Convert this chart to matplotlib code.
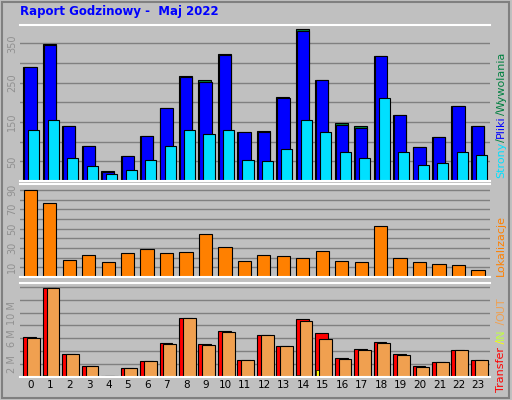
import matplotlib
matplotlib.use("Agg")
import matplotlib.pyplot as plt
import numpy as np

hours = list(range(24))
wywolania = [291,348,141,88,25,63,114,185,266,256,323,124,126,213,388,258,147,139,317,167,86,111,192,141]
pliki     = [289,347,139,88,24,63,114,185,264,253,320,124,124,210,383,256,142,136,317,167,86,111,192,141]
strony    = [131,154,58,37,17,27,53,88,129,119,131,53,50,81,154,124,75,58,210,73,40,45,75,65]
lokalizacje = [90,76,18,22.5,16,24.5,29,24.5,25.5,44,31,17,22.5,21.5,19.5,26.5,17,15,53,19.5,16,13,12,7]
transfer = [6.25,13.9,3.5,1.75,0.2,1.45,2.5,5.3,9.2,5.1,7.1,2.7,6.5,4.8,9.0,6.8,3.0,4.4,5.4,3.6,1.75,2.35,4.2,2.7]
trans_in = [0,0.3,0,0,0,0,0,0,0,0,0,0,0,0,0.3,1.1,0,0,0,0,0,0,0,0]
trans_out = [6.05,13.8,3.5,1.75,0.2,1.45,2.5,5.1,9.2,5.0,7.0,2.7,6.5,4.8,8.7,5.9,2.8,4.2,5.3,3.4,1.6,2.35,4.2,2.7]

BG = "#c0c0c0"
fig = plt.figure(figsize=(5.12, 4.0), dpi=100, facecolor=BG)
fig.patches.append(plt.Rectangle((0.004,0.005),0.99,0.99,transform=fig.transFigure,fill=False,ec="#808080",lw=1.5))
x = np.array(hours)
L, W = 0.039, 0.918

def setup(ax, ylim, grid, ticks, labels):
    ax.set_facecolor(BG)
    ax.set_xlim(-0.55, 23.6)
    ax.set_ylim(*ylim)
    for g in grid:
        ax.axhline(g, color="#808080", lw=1, zorder=0)
    ax.set_yticks(ticks)
    ax.set_yticklabels(labels, rotation=90, va="center", fontsize=7, color="#909090")
    ax.tick_params(length=0, pad=2)
    for s in ax.spines.values():
        s.set_visible(False)
    ax.spines['bottom'].set_visible(True); ax.spines['bottom'].set_color("white"); ax.spines['bottom'].set_linewidth(1.5)
    ax.spines['top'].set_visible(True); ax.spines['top'].set_color("white"); ax.spines['top'].set_linewidth(1.5)

ax1 = fig.add_axes([L, 0.5475, W, 0.39])
setup(ax1, (0, 397), range(50, 400, 50), [50,150,250,350], ["50","150","250","350"])
ax1.set_xticks([])
ax1.bar(x-0.38, wywolania, 0.66, align="edge", color="#008040", ec="black", lw=0.8)
ax1.bar(x-0.33, pliki, 0.63, align="edge", color="#0000ff", ec="black", lw=0.8)
ax1.bar(x-0.12, strony, 0.57, align="edge", color="#00e0ff", ec="black", lw=0.8)

ax2 = fig.add_axes([L, 0.3075, W, 0.2325])
setup(ax2, (0, 96), range(10, 100, 10), [10,30,50,70,90], ["10","30","50","70","90"])
ax2.set_xticks([])
ax2.bar(x-0.36, lokalizacje, 0.68, align="edge", color="#ff8000", ec="black", lw=0.8)

ax3 = fig.add_axes([L, 0.0575, W, 0.235])
setup(ax3, (0, 14.6), np.arange(2, 15, 2), [2,6,10], ["2 M","6 M","10 M"])
ax3.bar(x-0.38, transfer, 0.66, align="edge", color="#ff0000", ec="black", lw=0.8)
ax3.bar(x-0.33, trans_in, 0.12, align="edge", color="#ffff00", ec="black", lw=0.5)
ax3.bar(x-0.18, trans_out, 0.66, align="edge", color="#f0a050", ec="black", lw=0.8)
ax3.set_xticks(hours)
ax3.set_xticklabels([str(h) for h in hours], fontsize=7.5, color="black")

fig.text(0.04, 0.972, "Raport Godzinowy -  Maj 2022", color="#0000ff", fontsize=8.5, fontweight="bold", va="center")

def vtext(parts, x0, y0):
    y = y0
    for t, c in parts:
        tx = fig.text(x0, y, t, color=c, rotation=90, fontsize=8, va="bottom", ha="center")
        fig.canvas.draw()
        bb = tx.get_window_extent()
        y += bb.height / fig.bbox.height
vtext([("Strony", "#00e0ff"), ("/", "#008040"), ("Pliki", "#0000ff"), ("/", "#008040"), ("Wywolania", "#008040")], 0.979, 0.555)
vtext([("Lokalizacje", "#ff8000")], 0.979, 0.31)
vtext([("Transfer", "#ff0000"), (" /", "#ffff00"), ("IN", "#c0ff40"), (" /", "#f0a050"), ("OUT", "#f0a050")], 0.979, 0.02)

fig.savefig("out.png", dpi=100, facecolor=BG)
